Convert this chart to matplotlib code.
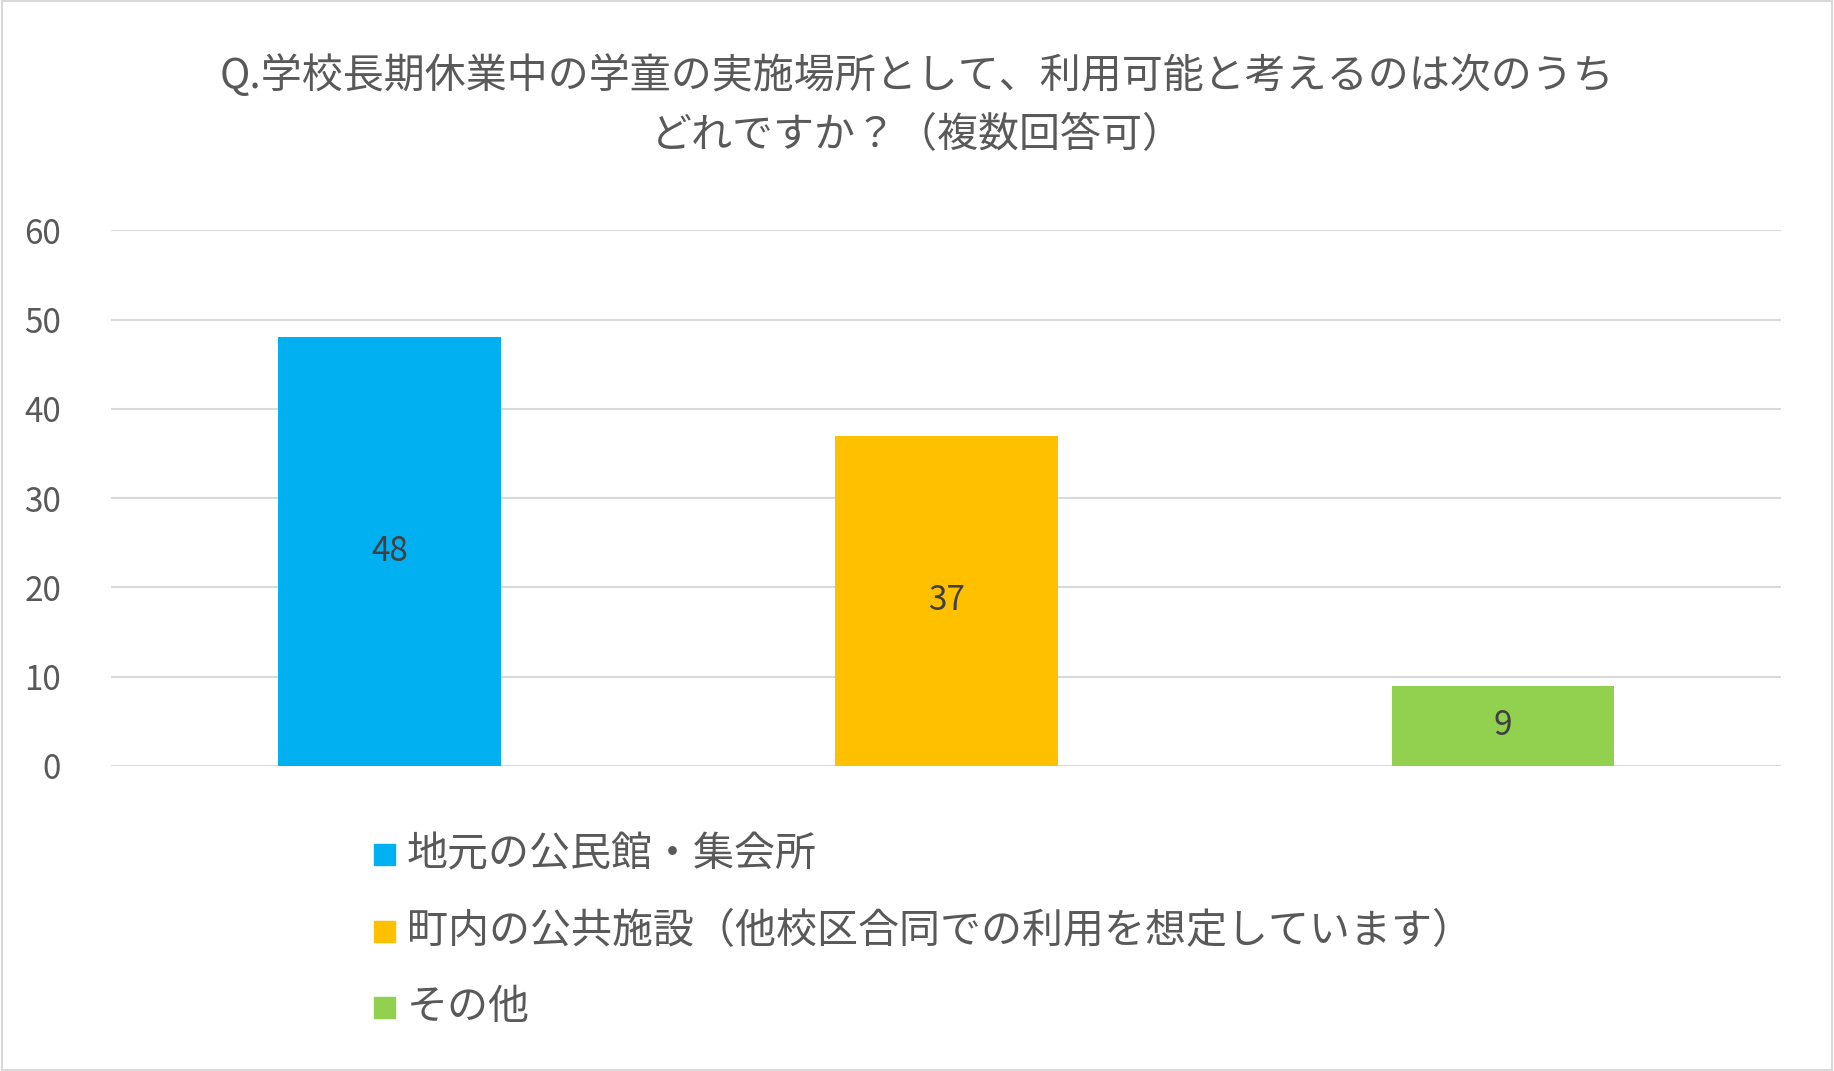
import matplotlib
matplotlib.use("Agg")
import matplotlib.pyplot as plt
from matplotlib.patches import Rectangle

categories = ["地元の公民館・集会所", "町内の公共施設（他校区合同での利用を想定しています）", "その他"]
values = [48, 37, 9]
colors = ["#00B0F0", "#FFC000", "#92D050"]
yticks = [0, 10, 20, 30, 40, 50, 60]
title = "Q.学校長期休業中の学童の実施場所として、利用可能と考えるのは次のうち\nどれですか？（複数回答可）"

plt.rcParams["font.family"] = "Noto Sans CJK JP"
W, H = 1568, 916
fig = plt.figure(figsize=(18.34, 10.71), dpi=100)
fig.patches.append(Rectangle((0.001, 0.001), 0.998, 0.998, transform=fig.transFigure,
                             fill=False, edgecolor="#D9D9D9", linewidth=1.5))
ax = fig.add_axes([95 / W, 1 - 655 / H, (1523 - 95) / W, (655 - 197) / H])
x = range(len(values))
ax.bar(x, values, width=0.4, color=colors, zorder=3)
for i, v in enumerate(values):
    ax.text(i, v / 2, str(v), ha="center", va="center", fontsize=24, color="#404040", zorder=4)
ax.set_xlim(-0.5, 2.5)
ax.set_ylim(0, 60)
ax.set_yticks(yticks)
ax.set_yticklabels([str(t) for t in yticks], fontsize=24, color="#595959")
ax.set_xticks([])
ax.grid(axis="y", color="#D9D9D9", linewidth=1.5, zorder=0)
for s in ax.spines.values():
    s.set_visible(False)
ax.tick_params(axis="y", length=0, pad=36)

fig.text(0.5, 1 - 90 / H, title, ha="center", va="center", fontsize=29.5,
         color="#595959", linespacing=1.55)

for i, (c, col) in enumerate(zip(categories, colors)):
    yc = [731, 797, 862][i]
    fig.patches.append(Rectangle((320 / W, 1 - (yc + 9) / H), 18 / W, 18 / H,
                                 transform=fig.transFigure, color=col))
    fig.text(348 / W, 1 - yc / H, c, ha="left", va="center", fontsize=29.5, color="#595959")

fig.savefig("out.png", dpi=100)
